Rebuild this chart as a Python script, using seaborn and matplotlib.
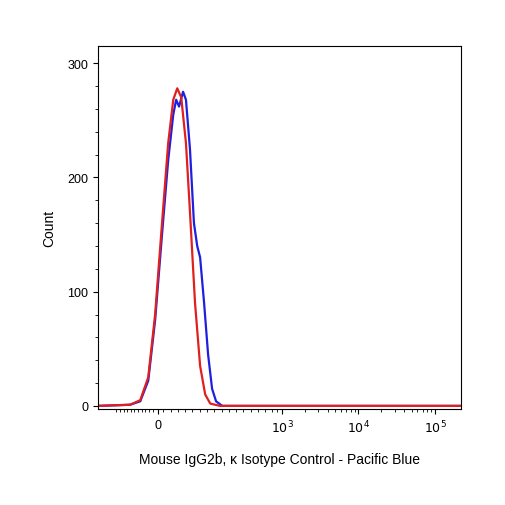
import numpy as np
import pandas as pd
import seaborn as sns
import matplotlib.pyplot as plt
from matplotlib.ticker import MultipleLocator

# display channel (0-1000 biexponential scale) and counts
red_x = [0, 88, 116, 138, 157, 176, 193, 207, 218, 229, 242, 253, 267, 281, 295, 309, 336, 1000]
red_y = [0, 1, 5, 25, 80, 160, 230, 268, 278, 270, 230, 170, 90, 35, 10, 2, 0, 0]
blue_x = [0, 88, 116, 138, 157, 176, 193, 207, 215, 223, 234, 242, 253, 264, 273, 281, 292, 303, 314, 325, 342, 1000]
blue_y = [0, 1, 4, 22, 75, 150, 215, 255, 268, 262, 275, 268, 225, 160, 140, 130, 90, 45, 15, 4, 0, 0]

tick_pos = [165, 507, 717, 929]
tick_labels = ["0", "$10^3$", "$10^4$", "$10^5$"]
minor_pos = [50, 60, 70, 80, 90, 100, 110, 120, 130, 140, 150, 180, 200, 220, 240, 260, 280,
             300, 320, 340, 360, 380, 400, 420, 440, 460, 480, 494,
             570, 607, 634, 654, 670, 684, 696, 707,
             780, 817, 844, 864, 880, 894, 906, 917]

sns.set_style("ticks")
plt.rcParams["font.family"] = ["Liberation Sans", "DejaVu Sans"]
plt.rcParams["text.color"] = "black"
plt.rcParams["axes.labelcolor"] = "black"
plt.rcParams["xtick.color"] = "black"
plt.rcParams["ytick.color"] = "black"

df_red = pd.DataFrame({"x": red_x, "y": red_y})
df_blue = pd.DataFrame({"x": blue_x, "y": blue_y})

fig = plt.figure(figsize=(5.06, 5.06), dpi=100)
ax = fig.add_axes([0.194, 0.19, 0.717, 0.717])
sns.lineplot(data=df_blue, x="x", y="y", color="#1f1fe0", lw=1.6, ax=ax)
sns.lineplot(data=df_red, x="x", y="y", color="#e01f1f", lw=1.6, ax=ax)

ax.set_xlim(0, 1000)
ax.set_ylim(-2.6, 315)
ax.set_xticks(tick_pos)
ax.set_xticklabels(tick_labels, fontsize=9)
ax.set_xticks(minor_pos, minor=True)
ax.set_yticks([0, 100, 200, 300])
ax.tick_params(axis="y", labelsize=9)
ax.yaxis.set_minor_locator(MultipleLocator(20))
ax.tick_params(which="both", direction="out")
for s in ax.spines.values():
    s.set_color("black")
    s.set_linewidth(0.8)
ax.set_xlabel("Mouse IgG2b, κ Isotype Control - Pacific Blue", fontsize=10, labelpad=12)
ax.set_ylabel("Count", fontsize=10, labelpad=8)

fig.savefig("out.png", dpi=100)
